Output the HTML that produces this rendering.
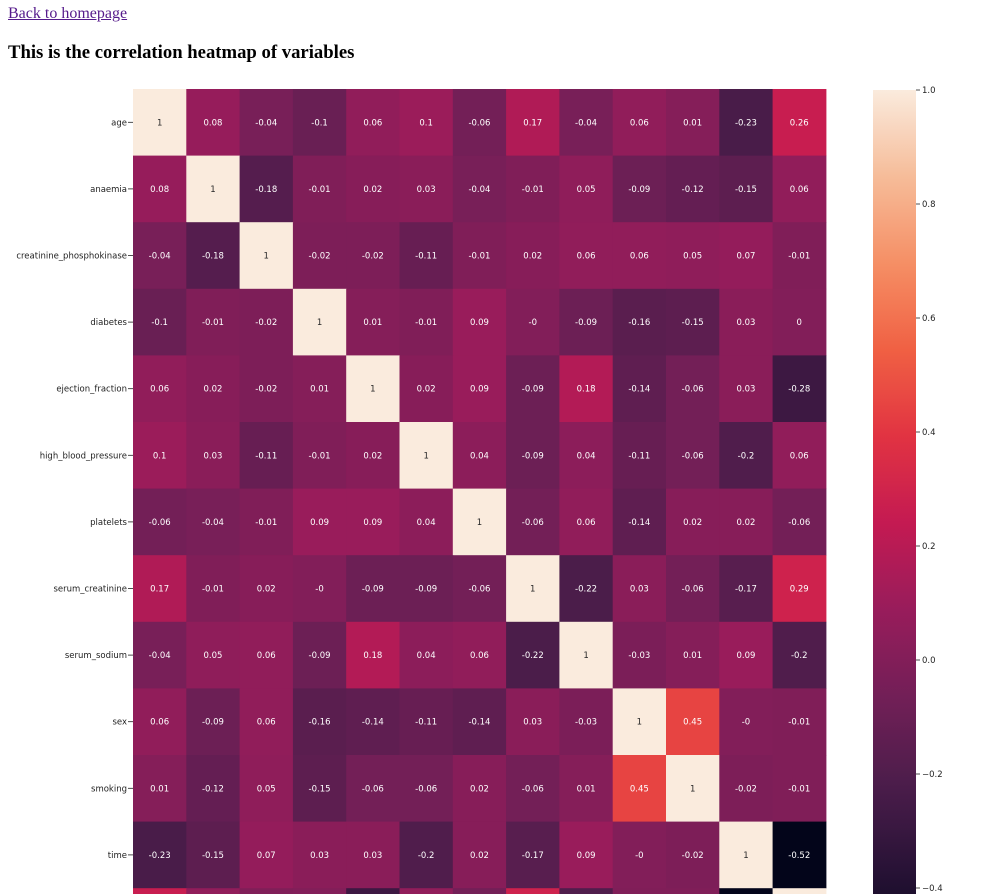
<!DOCTYPE html>
<html><head><meta charset="utf-8">
<style>
html,body{margin:0;padding:0;background:#fff;width:996px;height:894px;overflow:hidden;position:relative}
a{position:absolute;left:8px;top:5px;font:16px "Liberation Serif",serif;color:#551a8b;text-decoration:underline}
h3{position:absolute;left:8px;top:42px;margin:0;font:bold 18.7px "Liberation Serif",serif}
svg{position:absolute;left:0;top:0;overflow:hidden}
</style></head><body>
<a href="#">Back to homepage</a>
<h3>This is the correlation heatmap of variables</h3>
<svg id="chart" width="996" height="894"></svg>
<script>
const labels=["age","anaemia","creatinine_phosphokinase","diabetes","ejection_fraction","high_blood_pressure","platelets","serum_creatinine","serum_sodium","sex","smoking","time","DEATH_EVENT"];
const matrix=[
[1,0.08,-0.04,-0.1,0.06,0.1,-0.06,0.17,-0.04,0.06,0.01,-0.23,0.26],
[0.08,1,-0.18,-0.01,0.02,0.03,-0.04,-0.01,0.05,-0.09,-0.12,-0.15,0.06],
[-0.04,-0.18,1,-0.02,-0.02,-0.11,-0.01,0.02,0.06,0.06,0.05,0.07,-0.01],
[-0.1,-0.01,-0.02,1,0.01,-0.01,0.09,-0,-0.09,-0.16,-0.15,0.03,0],
[0.06,0.02,-0.02,0.01,1,0.02,0.09,-0.09,0.18,-0.14,-0.06,0.03,-0.28],
[0.1,0.03,-0.11,-0.01,0.02,1,0.04,-0.09,0.04,-0.11,-0.06,-0.2,0.06],
[-0.06,-0.04,-0.01,0.09,0.09,0.04,1,-0.06,0.06,-0.14,0.02,0.02,-0.06],
[0.17,-0.01,0.02,-0,-0.09,-0.09,-0.06,1,-0.22,0.03,-0.06,-0.17,0.29],
[-0.04,0.05,0.06,-0.09,0.18,0.04,0.06,-0.22,1,-0.03,0.01,0.09,-0.2],
[0.06,-0.09,0.06,-0.16,-0.14,-0.11,-0.14,0.03,-0.03,1,0.45,-0,-0.01],
[0.01,-0.12,0.05,-0.15,-0.06,-0.06,0.02,-0.06,0.01,0.45,1,-0.02,-0.01],
[-0.23,-0.15,0.07,0.03,0.03,-0.2,0.02,-0.17,0.09,-0,-0.02,1,-0.52],
[0.26,0.06,-0.01,0,-0.28,0.06,-0.06,0.29,-0.2,-0.01,-0.01,-0.52,1]];
const cbTicks=[1.0,0.8,0.6,0.4,0.2,0.0,-0.2,-0.4];
const vmin=-0.52,vmax=1;
const X0=133,CW=53.3,Y0=89,CH=66.6;
const stops=[[0,3,5,26],[0.1,40,18,54],[0.2,76,29,75],[0.3,114,31,87],[0.4,152,28,91],[0.5,196,26,82],[0.6,225,51,66],[0.7,240,96,67],[0.8,245,143,101],[0.9,246,188,153],[1,250,235,221]];
function cmap(v){let t=(v-vmin)/(vmax-vmin);t=Math.max(0,Math.min(1,t));
for(let i=1;i<stops.length;i++){if(t<=stops[i][0]){const a=stops[i-1],b=stops[i],f=(t-a[0])/(b[0]-a[0]);
return `rgb(${[1,2,3].map(k=>Math.round(a[k]+(b[k]-a[k])*f)).join(',')})`;}}return 'rgb(250,235,221)';}
function xs(j){return X0+j*CW;} function ys(i){return Y0+i*CH;}
const CB_TOP=90,CB_PX=570; function cby(v){return CB_TOP+(1-v)*CB_PX;}
const svg=document.getElementById('chart');const NS='http://www.w3.org/2000/svg';
function mk(tag,attrs,parent){const e=document.createElementNS(NS,tag);for(const k in attrs)e.setAttribute(k,attrs[k]);(parent||svg).appendChild(e);return e;}
matrix.forEach((row,i)=>{row.forEach((v,j)=>{
 const r=mk('rect',{x:xs(j),y:ys(i),width:CW+0.5,height:Math.min(CH+0.5,894-ys(i)),fill:cmap(v)});
 
 
 const t=mk('text',{x:xs(j)+CW/2,y:ys(i)+CH/2+3,'text-anchor':'middle','font-family':'DejaVu Sans,sans-serif','font-size':'8.5',fill:v>0.6?'#262626':'#fff'});
 t.textContent=(Object.is(v,-0)?'-0':String(v));
 
 
});
 const l=mk('text',{x:127,y:ys(i)+CH/2+3,'text-anchor':'end','font-family':'DejaVu Sans,sans-serif','font-size':'8.5',fill:'#222'});
 l.textContent=labels[i];
 
 
 mk('line',{x1:128,x2:133,y1:ys(i)+CH/2,y2:ys(i)+CH/2,stroke:'#222','stroke-width':0.8});
});
const defs=mk('defs',{});const g=mk('linearGradient',{id:'cb',x1:0,y1:0,x2:0,y2:1},defs);
for(let k=0;k<=40;k++){const v=vmax-(vmax-vmin)*k/40;mk('stop',{offset:(k/40),'stop-color':cmap(v)},g);}
const cb=mk('rect',{x:873,y:cby(vmax),width:43,height:cby(vmin)-cby(vmax),fill:'url(#cb)'});


cbTicks.forEach(v=>{const y=cby(v);
 mk('line',{x1:916,x2:920,y1:y,y2:y,stroke:'#222','stroke-width':0.8});
 const t=mk('text',{x:922,y:y+3,'font-family':'DejaVu Sans,sans-serif','font-size':'8.5',fill:'#222'});
 t.textContent=(v<0?'\u2212':'')+Math.abs(v).toFixed(1);
 
 
});
</script>
</body></html>
